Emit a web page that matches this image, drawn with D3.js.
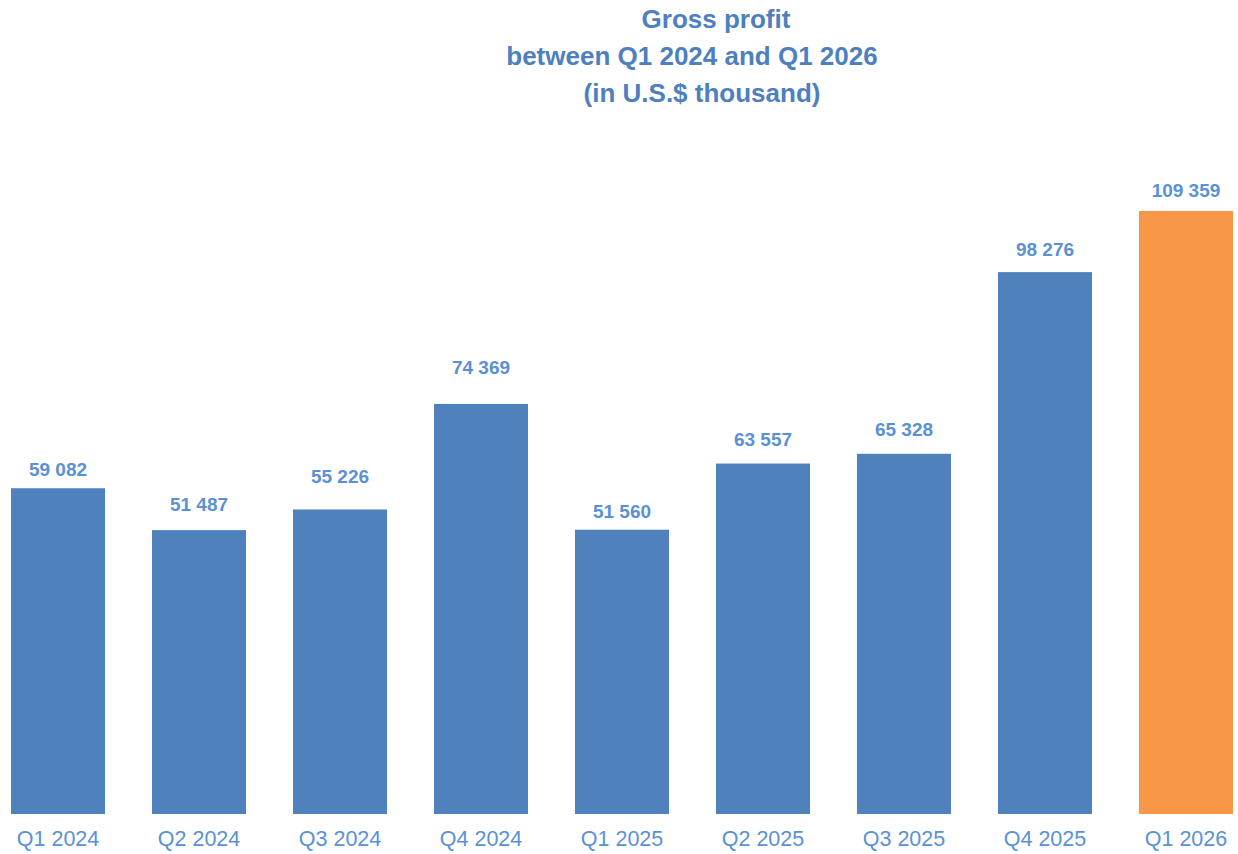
<!DOCTYPE html>
<html><head><meta charset="utf-8">
<script src="https://cdn.jsdelivr.net/npm/d3@7"></script>
<style>body{margin:0;background:#fff}svg{display:block}</style>
</head><body>
<svg id="chart" width="1238" height="854"></svg>
<script>
const categories = ["Q1 2024","Q2 2024","Q3 2024","Q4 2024","Q1 2025","Q2 2025","Q3 2025","Q4 2025","Q1 2026"];
const values = [59082, 51487, 55226, 74369, 51560, 63557, 65328, 98276, 109359];
const valueLabels = ["59 082","51 487","55 226","74 369","51 560","63 557","65 328","98 276","109 359"];
const titleLines = ["Gross profit","between Q1 2024 and Q1 2026","(in U.S.$ thousand)"];

// layout settings (label gap above each bar, in px)
const labelGaps = [12, 19, 26, 30, 12, 18, 18, 16, 14];

const svg = d3.select("#chart");
const font = "'Liberation Sans', Arial, sans-serif";
const baseY = 814;

const x = d3.scaleBand().domain(categories).range([11, 1233]).paddingInner(0.333).paddingOuter(0);
const y = d3.scaleLinear().domain([0, 109359]).range([baseY, 211]);

svg.selectAll("rect.bar").data(values).join("rect")
  .attr("class","bar")
  .attr("x",(d,i)=>x(categories[i]))
  .attr("width",x.bandwidth())
  .attr("y",d=>y(d))
  .attr("height",d=>baseY-y(d))
  .attr("fill",(d,i)=> i===values.length-1 ? "#f79646" : "#4f81bd");

svg.selectAll("text.val").data(values).join("text")
  .attr("class","val")
  .attr("x",(d,i)=>x(categories[i])+x.bandwidth()/2)
  .attr("y",(d,i)=>y(d)-labelGaps[i])
  .attr("text-anchor","middle")
  .attr("font-family",font).attr("font-weight","bold").attr("font-size",19)
  .attr("fill","#5a91d6")
  .text((d,i)=>valueLabels[i]);

const xAxis = svg.append("g").attr("transform",`translate(0,${baseY})`)
  .call(d3.axisBottom(x).tickSize(0).tickPadding(0));
xAxis.select(".domain").remove();
xAxis.selectAll("text")
  .attr("dy",null).attr("y",32)
  .attr("font-family",font).attr("font-size",21.5)
  .attr("fill","#5a91d6");

const titleX = [716, 692, 702];
const titleY = [28, 65, 102];
svg.selectAll("text.title").data(titleLines).join("text")
  .attr("class","title")
  .attr("x",(d,i)=>titleX[i]).attr("y",(d,i)=>titleY[i])
  .attr("text-anchor","middle")
  .attr("font-family",font).attr("font-weight","bold").attr("font-size",26)
  .attr("fill","#4e80bf")
  .text(d=>d);
</script>
</body></html>
